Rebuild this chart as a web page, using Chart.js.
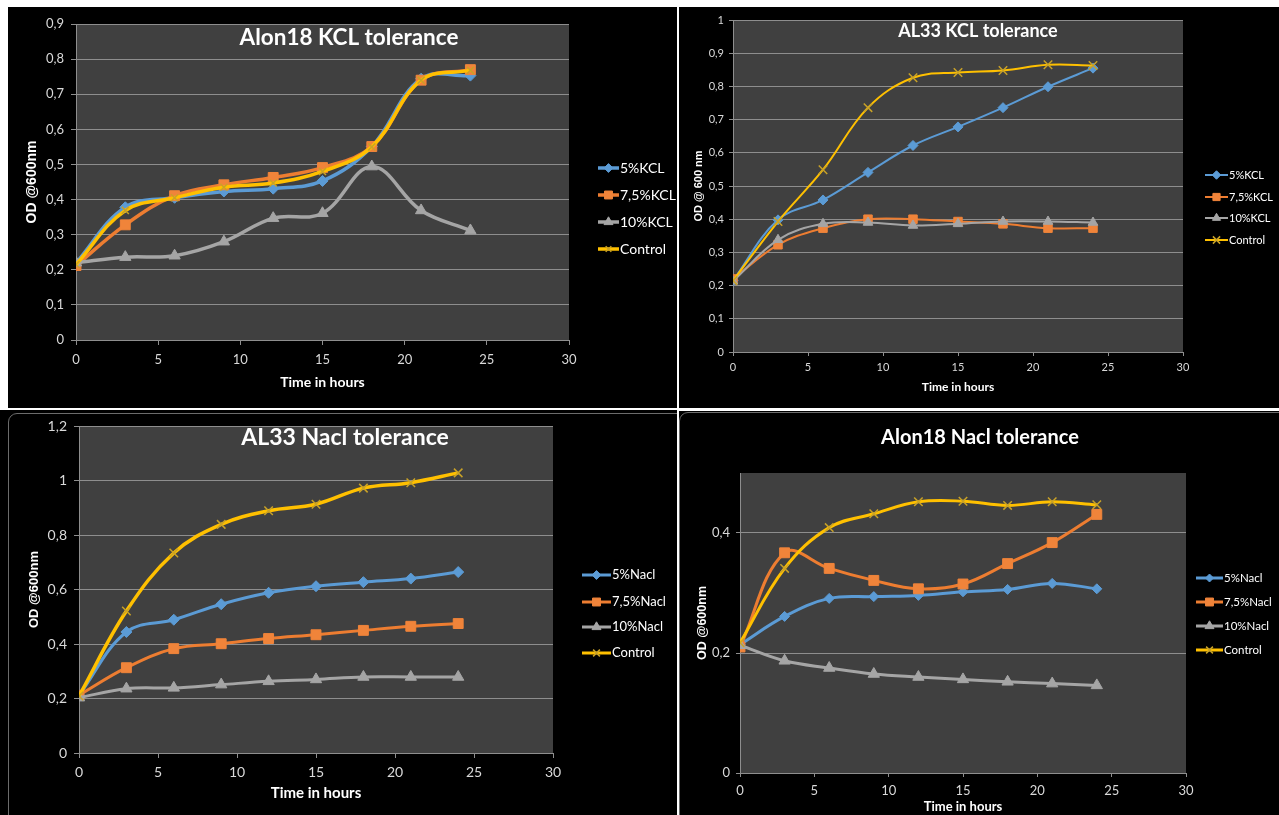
<!DOCTYPE html>
<html>
<head>
<meta charset="utf-8">
<script src="https://cdn.jsdelivr.net/npm/chart.js@4.4.1/dist/chart.umd.min.js"></script>
<style>
  html, body { margin: 0; padding: 0; background: #ffffff; }
  body { width: 1279px; height: 815px; position: relative; overflow: hidden; }
  .panel { position: absolute; background: #000000; overflow: hidden; }
  .panel canvas { position: absolute; left: 0; top: 0; }
  .frame { position: absolute; border: 1px solid #6c6c6c; border-radius: 9px; }
</style>
</head>
<body>
<div class="panel" style="left:8px;top:7px;width:669px;height:401px">
  <canvas id="c1" width="669" height="401"></canvas>
</div>
<div class="panel" style="left:679px;top:7px;width:600px;height:401px">
  <canvas id="c2" width="600" height="401"></canvas>
</div>
<div class="panel" style="left:0px;top:410px;width:677px;height:405px">
  <div class="frame" style="left:8px;top:3px;width:720px;height:500px"></div>
  <canvas id="c3" width="677" height="405"></canvas>
</div>
<div class="panel" style="left:679px;top:411px;width:600px;height:404px">
  <div class="frame" style="left:0px;top:1px;width:700px;height:500px"></div>
  <canvas id="c4" width="600" height="404"></canvas>
</div>

<script>
// Sampling times (hours)
const hours = [0, 3, 6, 9, 12, 15, 18, 21, 24];

// Series names
const kclNames  = ['5%KCL', '7,5%KCL', '10%KCL', 'Control'];
const naclNames = ['5%Nacl', '7,5%Nacl', '10%Nacl', 'Control'];

// Alon18 – KCL tolerance (OD 600 nm)
const alon18Kcl5       = [0.219, 0.378, 0.405, 0.423, 0.431, 0.453, 0.551, 0.744, 0.753];
const alon18Kcl75      = [0.212, 0.328, 0.411, 0.442, 0.463, 0.491, 0.551, 0.740, 0.770];
const alon18Kcl10      = [0.220, 0.236, 0.240, 0.280, 0.347, 0.361, 0.494, 0.369, 0.312];
const alon18KclControl = [0.215, 0.369, 0.405, 0.435, 0.447, 0.480, 0.550, 0.740, 0.768];

// AL33 – KCL tolerance
const al33Kcl5       = [0.215, 0.398, 0.458, 0.541, 0.622, 0.678, 0.736, 0.799, 0.855];
const al33Kcl75      = [0.220, 0.323, 0.373, 0.400, 0.400, 0.393, 0.386, 0.373, 0.373];
const al33Kcl10      = [0.213, 0.338, 0.386, 0.390, 0.381, 0.386, 0.393, 0.393, 0.390];
const al33KclControl = [0.215, 0.393, 0.549, 0.736, 0.826, 0.842, 0.848, 0.865, 0.863];

// AL33 – NaCl tolerance
const al33Nacl5       = [0.212, 0.444, 0.489, 0.546, 0.588, 0.612, 0.627, 0.640, 0.664];
const al33Nacl75      = [0.212, 0.313, 0.383, 0.401, 0.420, 0.434, 0.450, 0.465, 0.475];
const al33Nacl10      = [0.203, 0.236, 0.239, 0.251, 0.263, 0.270, 0.279, 0.279, 0.279];
const al33NaclControl = [0.209, 0.521, 0.734, 0.839, 0.889, 0.913, 0.972, 0.992, 1.028];

// Alon18 – NaCl tolerance
const alon18Nacl5       = [0.214, 0.261, 0.291, 0.294, 0.296, 0.302, 0.306, 0.316, 0.307];
const alon18Nacl75      = [0.210, 0.367, 0.341, 0.321, 0.307, 0.315, 0.349, 0.384, 0.431];
const alon18Nacl10      = [0.213, 0.187, 0.175, 0.165, 0.160, 0.156, 0.152, 0.149, 0.146];
const alon18NaclControl = [0.217, 0.341, 0.409, 0.432, 0.452, 0.453, 0.446, 0.452, 0.447];

// Styling shared by all panels
const lineColors   = ['#5b9bd5', '#ed7d31', '#a5a5a5', '#ffc000'];
const markerFill   = ['#5b9bd5', '#f0843a', '#a5a5a5', '#c9a227'];
const markerStyles = ['rectRot', 'rect', 'triangle', 'crossRot'];
const PLOT_BG   = '#404040';
const GRID      = '#8e8e8e';
const TICK_TEXT = '#d9d9d9';
const TEXT      = '#ffffff';

function fmtTick(v) {
  const r = Math.round(v * 10) / 10;
  return Number.isInteger(r) ? String(r) : r.toFixed(1).replace('.', ',');
}

const plotBackground = {
  id: 'plotBackground',
  beforeDraw(chart) {
    const a = chart.chartArea, ctx = chart.ctx;
    ctx.save();
    ctx.fillStyle = PLOT_BG;
    ctx.fillRect(a.left, a.top, a.right - a.left, a.bottom - a.top);
    ctx.restore();
  }
};

const panelTitle = {
  id: 'panelTitle',
  afterDraw(chart, args, o) {
    const ctx = chart.ctx;
    ctx.save();
    ctx.font = o.font;
    ctx.fillStyle = TEXT;
    ctx.textAlign = 'center';
    ctx.textBaseline = 'middle';
    ctx.fillText(o.text, o.x, o.y);
    ctx.restore();
  }
};

function drawMarker(ctx, style, r, x, y) {
  if (Chart.helpers && Chart.helpers.drawPoint) {
    Chart.helpers.drawPoint(ctx, { pointStyle: style, radius: r, rotation: 0, borderWidth: ctx.lineWidth }, x, y);
  }
}

const sideLegend = {
  id: 'sideLegend',
  afterDraw(chart, args, o) {
    const ctx = chart.ctx;
    ctx.save();
    chart.data.datasets.forEach((ds, i) => {
      const y = o.ys[i];
      ctx.strokeStyle = ds.borderColor;
      ctx.lineWidth = o.lineWidth;
      ctx.beginPath();
      ctx.moveTo(o.x0, y);
      ctx.lineTo(o.x1, y);
      ctx.stroke();
      ctx.fillStyle = ds.pointBackgroundColor;
      ctx.strokeStyle = ds.pointBorderColor;
      ctx.lineWidth = ds.pointBorderWidth;
      drawMarker(ctx, ds.pointStyle, ds.pointRadius * o.markerScale, (o.x0 + o.x1) / 2, y);
      ctx.fillStyle = TEXT;
      ctx.font = o.font;
      ctx.textAlign = 'left';
      ctx.textBaseline = 'middle';
      ctx.fillText(ds.label, o.tx, y);
    });
    ctx.restore();
  }
};

function buildPanel(id, p) {
  const datasets = p.series.map((vals, i) => ({
    label: p.names[i],
    data: vals.map((v, j) => ({ x: hours[j], y: v })),
    borderColor: lineColors[i],
    borderWidth: i === 3 ? p.controlWidth : p.lineWidth,
    pointStyle: markerStyles[i],
    pointRadius: p.radii[i],
    pointBackgroundColor: markerFill[i],
    pointBorderColor: markerFill[i],
    pointBorderWidth: i === 3 ? 1.5 : 1,
    tension: 0.38,
    fill: false,
    order: 3 - i
  }));

  return new Chart(document.getElementById(id), {
    type: 'line',
    data: { datasets },
    options: {
      responsive: false,
      animation: false,
      devicePixelRatio: 1,
      layout: { padding: { left: 0, top: p.padTop, right: p.padRight, bottom: 0 } },
      plugins: {
        legend: { display: false },
        tooltip: { enabled: false },
        panelTitle: { text: p.title, font: p.titleFont, x: p.titleX, y: p.titleY },
        sideLegend: p.legend
      },
      scales: {
        x: {
          type: 'linear', min: 0, max: 30,
          ticks: { stepSize: 5, color: TICK_TEXT, font: { family: 'Lato', size: p.xTickSize }, padding: p.xTickPad, maxRotation: 0 },
          grid: { display: true, drawOnChartArea: false, drawTicks: true, tickLength: p.tickLen, tickColor: GRID },
          border: { display: true, color: GRID, width: 1 },
          title: { display: true, text: 'Time in hours', color: TEXT,
                   font: { family: 'Lato', size: p.xTitleSize, weight: 'bold' },
                   padding: { top: 0, bottom: p.xTitlePad } },
          afterFit(s) { s.height = p.xHeight; }
        },
        y: {
          type: 'linear', min: 0, max: p.yMax,
          ticks: { stepSize: p.yStep, includeBounds: false, color: TICK_TEXT,
                   font: { family: 'Lato', size: p.yTickSize }, padding: p.yTickPad, callback: fmtTick },
          grid: { color: GRID, lineWidth: 1, drawTicks: true, tickLength: p.tickLen, tickColor: GRID },
          border: { display: true, color: GRID, width: 1 },
          title: { display: true, text: p.yTitle, color: TEXT,
                   font: { family: 'Liberation Sans', size: p.yTitleSize, weight: 'bold' },
                   padding: { top: p.yTitlePad, bottom: 0 } },
          afterFit(s) { s.width = p.yWidth; }
        }
      }
    },
    plugins: [plotBackground, panelTitle, sideLegend]
  });
}

buildPanel('c1', {
  names: kclNames,
  series: [alon18Kcl5, alon18Kcl75, alon18Kcl10, alon18KclControl],
  title: 'Alon18 KCL tolerance', titleFont: 'bold 22.5px Lato', titleX: 341, titleY: 31,
  yMax: 0.9, yStep: 0.1, yTitle: 'OD @600nm',
  padTop: 17, padRight: 108, yWidth: 68, xHeight: 68,
  tickLen: 5, yTickPad: 7, xTickPad: 7, xTickSize: 13, yTickSize: 13,
  yTitleSize: 14, yTitlePad: 16, xTitleSize: 14, xTitlePad: 17,
  lineWidth: 3.5, controlWidth: 3.5, radii: [5.5, 7, 6.5, 5],
  legend: { x0: 590, x1: 611, tx: 612, ys: [161, 188, 215, 242], font: '14px Lato', lineWidth: 3.5, markerScale: 0.8 }
});

buildPanel('c2', {
  names: kclNames,
  series: [al33Kcl5, al33Kcl75, al33Kcl10, al33KclControl],
  title: 'AL33 KCL tolerance', titleFont: 'bold 18px Lato', titleX: 299, titleY: 24,
  yMax: 1, yStep: 0.1, yTitle: 'OD @ 600 nm',
  padTop: 13, padRight: 96, yWidth: 54, xHeight: 56,
  tickLen: 4, yTickPad: 5, xTickPad: 5, xTickSize: 11, yTickSize: 11,
  yTitleSize: 11, yTitlePad: 13, xTitleSize: 12, xTitlePad: 14,
  lineWidth: 2, controlWidth: 2, radii: [5, 6, 5.5, 6],
  legend: { x0: 526, x1: 549, tx: 550, ys: [168, 190, 211, 233], font: '11px Lato', lineWidth: 2, markerScale: 0.85 }
});

buildPanel('c3', {
  names: naclNames,
  series: [al33Nacl5, al33Nacl75, al33Nacl10, al33NaclControl],
  title: 'AL33 Nacl tolerance', titleFont: 'bold 23px Lato', titleX: 345, titleY: 28,
  yMax: 1.2, yStep: 0.2, yTitle: 'OD @600nm',
  padTop: 16, padRight: 124, yWidth: 79, xHeight: 62,
  tickLen: 5, yTickPad: 7, xTickPad: 6, xTickSize: 14, yTickSize: 14,
  yTitleSize: 13, yTitlePad: 27, xTitleSize: 15, xTitlePad: 13,
  lineWidth: 3, controlWidth: 3.5, radii: [5.5, 7, 6.5, 6],
  legend: { x0: 582, x1: 611, tx: 612, ys: [165, 192, 217, 243], font: '13px Lato', lineWidth: 3, markerScale: 0.8 }
});

buildPanel('c4', {
  names: naclNames,
  series: [alon18Nacl5, alon18Nacl75, alon18Nacl10, alon18NaclControl],
  title: 'Alon18 Nacl tolerance', titleFont: 'bold 20px Lato', titleX: 301, titleY: 27,
  yMax: 0.5, yStep: 0.2, yTitle: 'OD @600nm',
  padTop: 62, padRight: 93, yWidth: 61, xHeight: 42,
  tickLen: 4, yTickPad: 6, xTickPad: 6, xTickSize: 13, yTickSize: 13,
  yTitleSize: 12.5, yTitlePad: 16.5, xTitleSize: 13, xTitlePad: 0,
  lineWidth: 3, controlWidth: 3, radii: [5, 7, 6.5, 6],
  legend: { x0: 517, x1: 544, tx: 545, ys: [167, 191, 215, 239], font: '11.5px Lato', lineWidth: 3, markerScale: 0.8 }
});
</script>
</body>
</html>
